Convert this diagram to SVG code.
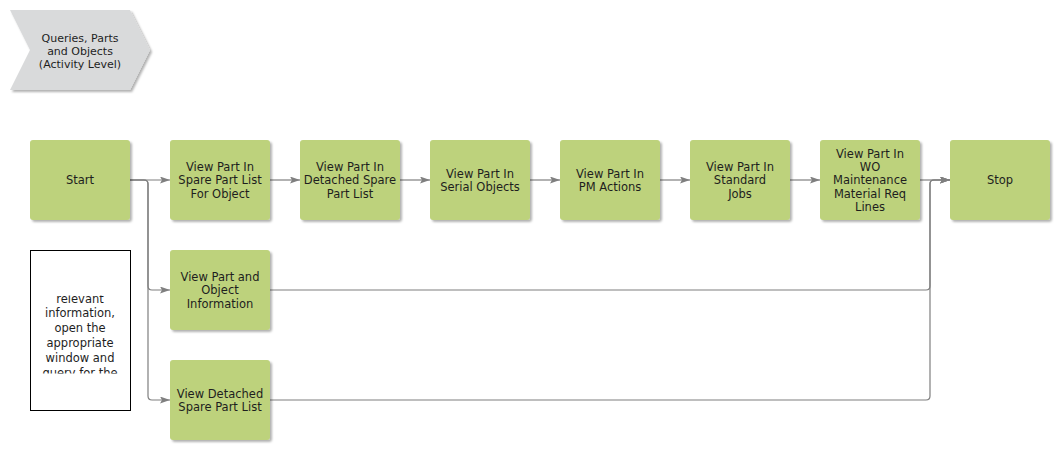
<svg xmlns="http://www.w3.org/2000/svg" width="1060" height="450" viewBox="0 0 1060 450">
<style>
.node rect{fill:#bdd27b;filter:url(#sh)}
.node text,.chev text,.note text{font-family:"DejaVu Sans",Verdana,sans-serif;font-size:11.5px;fill:#1e1e1e;text-anchor:middle}
.chev text{font-size:11px}
.conn path{fill:none;stroke:#7f7f7f;stroke-width:1.2}
</style>
<defs>
<filter id="sh" x="-10%" y="-10%" width="130%" height="130%">
<feDropShadow dx="2" dy="2" stdDeviation="1.3" flood-color="#000" flood-opacity="0.3"/>
</filter>
<marker id="arr" markerUnits="userSpaceOnUse" markerWidth="12" markerHeight="10" refX="10" refY="3.5" orient="auto">
<path d="M0,0 L10,3.5 L0,7 L2,3.5 z" fill="#7f7f7f"/>
</marker>
<clipPath id="noteclip"><rect x="31" y="295.5" width="98" height="78"/></clipPath>
</defs>
<rect width="1060" height="450" fill="#fff"/>

<g id="chevron" class="chev">
<polygon points="10,10 130,10 150,50 130,90 10,90 30,50" fill="#d9dadb" filter="url(#sh)"/>
<text x="80" y="42">Queries, Parts</text>
<text x="80" y="55">and Objects</text>
<text x="80" y="67.5">(Activity Level)</text>
</g>

<g id="connectors" class="conn">
<path d="M130,180 H170" marker-end="url(#arr)"/>
<path d="M130,180 H144 Q148,180 148,184 V286 Q148,290 152,290 H170" marker-end="url(#arr)"/>
<path d="M130,180 H144 Q148,180 148,184 V396 Q148,400 152,400 H170" marker-end="url(#arr)"/>
<path d="M270,180 H300" marker-end="url(#arr)"/>
<path d="M400,180 H430" marker-end="url(#arr)"/>
<path d="M530,180 H560" marker-end="url(#arr)"/>
<path d="M660,180 H690" marker-end="url(#arr)"/>
<path d="M790,180 H820" marker-end="url(#arr)"/>
<path d="M920,180 H950" marker-end="url(#arr)"/>
<path d="M270,290 H926 Q930,290 930,286 V184 Q930,180 934,180 H950" marker-end="url(#arr)"/>
<path d="M270,400 H926 Q930,400 930,396 V184 Q930,180 934,180 H950" marker-end="url(#arr)"/>
</g>

<g id="start" class="node"><rect x="30" y="140" width="100" height="80" rx="3"/><text x="80" y="184">Start</text></g>
<g id="n1" class="node"><rect x="170" y="140" width="100" height="80" rx="3"/><text x="220" y="171">View Part In</text><text x="220" y="184.3">Spare Part List</text><text x="220" y="197.6">For Object</text></g>
<g id="n2" class="node"><rect x="300" y="140" width="100" height="80" rx="3"/><text x="350" y="171">View Part In</text><text x="350" y="184.3">Detached Spare</text><text x="350" y="197.6">Part List</text></g>
<g id="n3" class="node"><rect x="430" y="140" width="100" height="80" rx="3"/><text x="480" y="177.7">View Part In</text><text x="480" y="191">Serial Objects</text></g>
<g id="n4" class="node"><rect x="560" y="140" width="100" height="80" rx="3"/><text x="610" y="177.7">View Part In</text><text x="610" y="191">PM Actions</text></g>
<g id="n5" class="node"><rect x="690" y="140" width="100" height="80" rx="3"/><text x="740" y="171">View Part In</text><text x="740" y="184.3">Standard</text><text x="740" y="197.6">Jobs</text></g>
<g id="n6" class="node"><rect x="820" y="140" width="100" height="80" rx="3"/><text x="870" y="158">View Part In</text><text x="870" y="171">WO</text><text x="870" y="184.3">Maintenance</text><text x="870" y="197.6">Material Req</text><text x="870" y="210.9">Lines</text></g>
<g id="stop" class="node"><rect x="950" y="140" width="100" height="80" rx="3"/><text x="1000" y="184">Stop</text></g>
<g id="n7" class="node"><rect x="170" y="250" width="100" height="80" rx="3"/><text x="220" y="281">View Part and</text><text x="220" y="294.3">Object</text><text x="220" y="307.6">Information</text></g>
<g id="n8" class="node"><rect x="170" y="360" width="100" height="80" rx="3"/><text x="220" y="397.7">View Detached</text><text x="220" y="411">Spare Part List</text></g>

<g id="note" class="note">
<rect x="30.5" y="250.5" width="100" height="160" fill="#fff" stroke="#000" stroke-width="1"/>
<g clip-path="url(#noteclip)">
<text x="80" y="302.5">relevant</text>
<text x="80" y="317.3">information,</text>
<text x="80" y="332.1">open the</text>
<text x="80" y="346.9">appropriate</text>
<text x="80" y="361.7">window and</text>
<text x="80" y="376.5">query for the</text>
</g>
</g>
</svg>
